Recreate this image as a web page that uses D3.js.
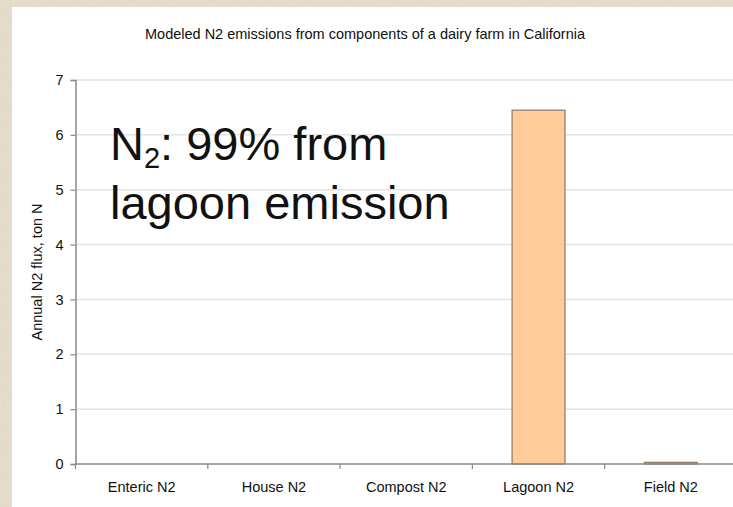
<!DOCTYPE html>
<html>
<head>
<meta charset="utf-8">
<script src="https://cdn.jsdelivr.net/npm/d3@7/dist/d3.min.js"></script>
<style>
  html, body { margin: 0; padding: 0; background: #e3dac9; }
  svg { display: block; }
  text { font-family: "Liberation Sans", Arial, sans-serif; fill: #111; }
</style>
</head>
<body>
<svg id="chart" width="733" height="507"></svg>
<script>
const categories = ["Enteric N2", "House N2", "Compost N2", "Lagoon N2", "Field N2"];
const values = [0, 0, 0, 6.45, 0.03];
const yTicks = [0, 1, 2, 3, 4, 5, 6, 7];
const title = "Modeled N2 emissions from components of a dairy farm in California";
const yTitle = "Annual N2 flux, ton N";

const svg = d3.select("#chart");
const W = 733, H = 507;

// textured beige background
const defs = svg.append("defs");
const f = defs.append("filter").attr("id", "noise").attr("x", 0).attr("y", 0).attr("width", "100%").attr("height", "100%");
f.append("feTurbulence").attr("type", "fractalNoise").attr("baseFrequency", "0.6 0.15").attr("numOctaves", 2).attr("seed", 3).attr("result", "t");
f.append("feColorMatrix").attr("in", "t").attr("type", "matrix")
  .attr("values", "0 0 0 0 0.80  0 0 0 0 0.74  0 0 0 0 0.64  0 0 0 1.2 -0.45");
svg.append("rect").attr("width", W).attr("height", H).attr("fill", "#e3dac9");
svg.append("rect").attr("width", W).attr("height", H).attr("fill", "#ccbfa5").attr("filter", "url(#noise)");

// white panel
svg.append("rect").attr("x", 12).attr("y", 7).attr("width", W - 12).attr("height", H - 7).attr("fill", "#ffffff");

const x0 = 75.5, x1 = 737, yTop = 80, yBot = 464;
const x = d3.scaleBand().domain(categories).range([x0, x1]).paddingInner(0.6).paddingOuter(0.3);
const y = d3.scaleLinear().domain([0, 7]).range([yBot, yTop]);

// gridlines
svg.append("g").selectAll("line").data(yTicks.filter(d => d > 0)).join("line")
  .attr("x1", x0).attr("x2", W).attr("y1", d => y(d)).attr("y2", d => y(d))
  .attr("stroke", "#e4e4e4").attr("stroke-width", 1.5);

// bars
svg.append("g").selectAll("rect").data(categories.map((c, i) => ({ c, v: values[i] })).filter(d => d.v > 0)).join("rect")
  .attr("x", d => x(d.c)).attr("width", x.bandwidth())
  .attr("y", d => y(d.v)).attr("height", d => y(0) - y(d.v))
  .attr("fill", "#ffcc99").attr("stroke", "#8a7866").attr("stroke-width", 1.2);

// y axis
const yAxis = d3.axisLeft(y).tickValues(yTicks).tickSize(5).tickPadding(7).tickFormat(d3.format("d"));
const gy = svg.append("g").attr("transform", `translate(${x0},0)`).call(yAxis);
gy.select(".domain").attr("stroke", "#888").attr("stroke-width", 1.5);
gy.selectAll(".tick line").attr("stroke", "#888").attr("stroke-width", 1.2);
gy.selectAll(".tick text").attr("font-size", 14.5).attr("font-family", "Liberation Sans, Arial, sans-serif").attr("fill", "#111");

// x axis line
svg.append("line").attr("x1", x0).attr("x2", W).attr("y1", yBot).attr("y2", yBot)
  .attr("stroke", "#888").attr("stroke-width", 1.5);
// x ticks at category boundaries
const bounds = categories.map(c => x(c) - x.step() * x.paddingInner() / 2);
svg.append("g").selectAll("line").data(bounds).join("line")
  .attr("x1", d => d).attr("x2", d => d).attr("y1", yBot).attr("y2", yBot + 5)
  .attr("stroke", "#888").attr("stroke-width", 1.2);

// x labels
svg.append("g").selectAll("text").data(categories).join("text")
  .attr("x", d => x(d) + x.bandwidth() / 2).attr("y", 492)
  .attr("text-anchor", "middle").attr("font-size", 14.5).text(d => d);

// title
svg.append("text").attr("x", 365).attr("y", 39).attr("text-anchor", "middle")
  .attr("font-size", 14.5).text(title);

// y title
svg.append("text").attr("transform", `translate(42,${(yTop + yBot) / 2}) rotate(-90)`)
  .attr("text-anchor", "middle").attr("font-size", 14.5).text(yTitle);

// annotation (one text block, two lines)
const ann = svg.append("text").attr("x", 110).attr("y", 160).attr("font-size", 47).attr("fill", "#000");
ann.append("tspan").text("N");
ann.append("tspan").attr("font-size", 29).attr("dy", 8).text("2");
ann.append("tspan").attr("dy", -8).text(": 99% from");
ann.append("tspan").attr("x", 110).attr("y", 219).text("lagoon emission");
</script>
</body>
</html>
